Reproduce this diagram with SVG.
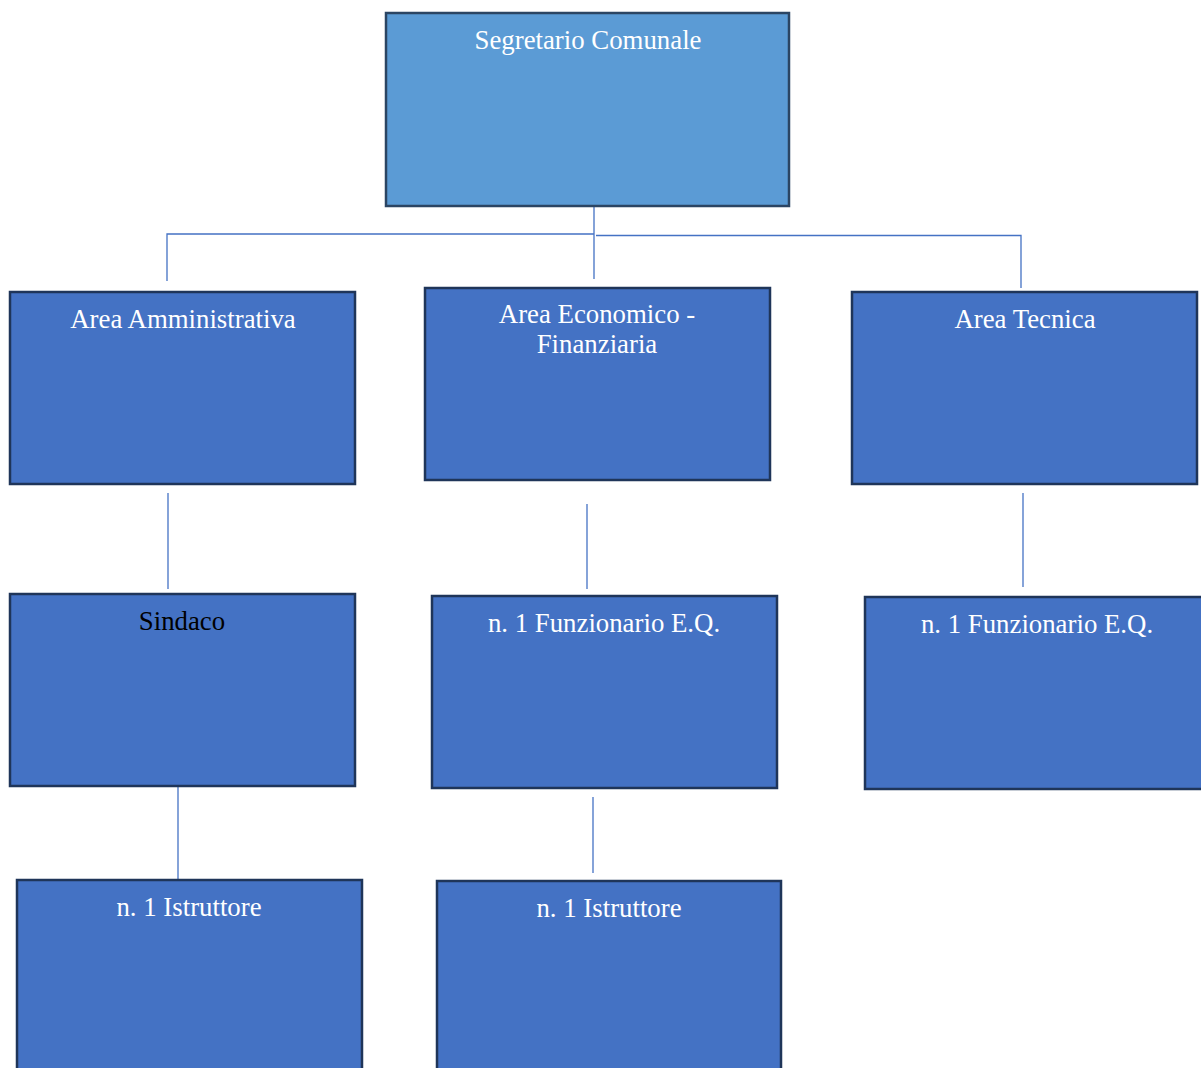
<svg xmlns="http://www.w3.org/2000/svg" width="1201" height="1068" viewBox="0 0 1201 1068">
<style>
.box{fill:#4472C4;stroke:#1F3559;stroke-width:2.5}
.top{fill:#5B9BD5;stroke:#2B4563;stroke-width:2.5}
.t{font-family:"Liberation Serif","Times New Roman",serif;font-size:26.8px;fill:#FFFFFF;text-anchor:middle}
.k{fill:#000000}
.c{fill:none;stroke:#4472C4;stroke-width:1.3}
</style>
<rect width="1201" height="1068" fill="#FFFFFF"/>
<g id="connectors">
<path class="c" d="M594,206 V279 M167,281 V234 H594 M596,235.5 H1021 V288"/>
<path class="c" d="M168,493 V589"/>
<path class="c" d="M587,504 V589"/>
<path class="c" d="M1023,493 V587"/>
<path class="c" d="M178,786 V880"/>
<path class="c" d="M593,797 V873"/>
</g>
<g id="segretario"><rect class="top" x="386" y="13" width="403" height="193"/><text class="t" x="588" y="49">Segretario Comunale</text></g>
<g id="area-amm"><rect class="box" x="10" y="292" width="345" height="192"/><text class="t" x="183" y="328">Area Amministrativa</text></g>
<g id="area-eco"><rect class="box" x="425" y="288" width="345" height="192"/><text class="t" x="597" y="323">Area Economico -</text><text class="t" x="597" y="353">Finanziaria</text></g>
<g id="area-tec"><rect class="box" x="852" y="292" width="345" height="192"/><text class="t" x="1025" y="328">Area Tecnica</text></g>
<g id="sindaco"><rect class="box" x="10" y="594" width="345" height="192"/><text class="t k" x="182" y="630">Sindaco</text></g>
<g id="funz-eco"><rect class="box" x="432" y="596" width="345" height="192"/><text class="t" x="604" y="632">n. 1 Funzionario E.Q.</text></g>
<g id="funz-tec"><rect class="box" x="865" y="597" width="345" height="192"/><text class="t" x="1037" y="633">n. 1 Funzionario E.Q.</text></g>
<g id="istr-amm"><rect class="box" x="17" y="880" width="345" height="200"/><text class="t" x="189" y="916">n. 1 Istruttore</text></g>
<g id="istr-eco"><rect class="box" x="437" y="881" width="344" height="200"/><text class="t" x="609" y="917">n. 1 Istruttore</text></g>
</svg>
